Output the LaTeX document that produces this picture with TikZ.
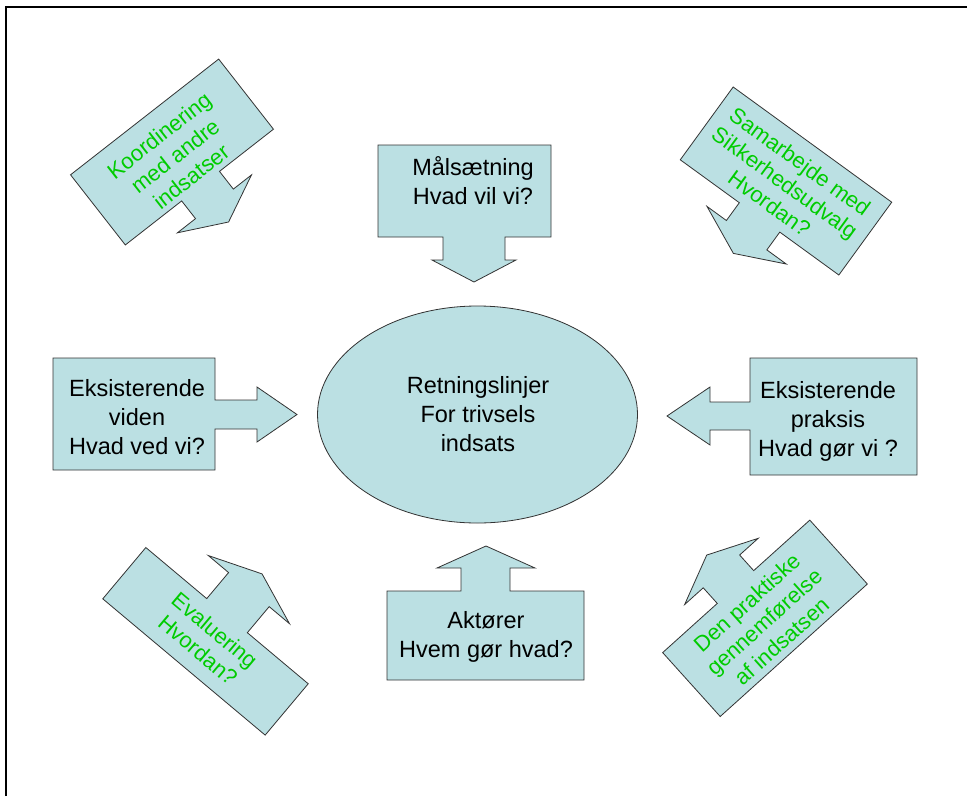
\documentclass[tikz,border=0pt]{standalone}
\usepackage{fontspec}
\setmainfont{Liberation Sans}
\usepackage{xcolor}
\usepackage{tikz}
\usetikzlibrary{shapes.geometric}

\definecolor{boxfill}{RGB}{187,224,227}
\definecolor{textgreen}{RGB}{0,204,0}

\begin{document}
\begin{tikzpicture}[x=1pt,y=-1pt,
		blockarrow/.style={fill=boxfill,draw=black!80,line width=0.8pt,line join=miter},
		blacktext/.style={align=center,inner sep=0pt,font=\fontsize{23.5}{29}\selectfont},
		greentext/.style={align=center,inner sep=0pt,text=textgreen,transform shape,font=\fontsize{22}{26}\selectfont}]
		\useasboundingbox (0,0) rectangle (967,796);
		% frame
		\draw[line width=2pt] (6,796)--(6,7)--(967,7);
		% centre
		\node[ellipse,fill=boxfill,draw=black!80,line width=0.8pt,minimum width=320pt,minimum height=217pt] (centre) at (477.5,414.5) {};
		\node[blacktext] (centretext) at (478,414) {Retningslinjer\\For trivsels\\indsats};
		% straight arrows
		\draw[blockarrow] (378,145)--(551,145)--(551,237)--(505,237)--(505,260)--(516,260)--(474,282)--(432,260)--(443,260)--(443,237)--(378,237)--cycle;
		\node[blacktext] (maal) at (473,181) {Målsætning\\Hvad vil vi?};
		\draw[blockarrow] (53,358)--(215,358)--(215,400)--(257,400)--(257,387)--(297,414.5)--(257,442)--(257,429)--(215,429)--(215,470)--(53,470)--cycle;
		\node[blacktext] (viden) at (137,417) {Eksisterende\\viden\\Hvad ved vi?};
		\draw[blockarrow] (917,358)--(750,358)--(750,402)--(710,402)--(710,387)--(667,416)--(710,445)--(710,430)--(750,430)--(750,475)--(917,475)--cycle;
		\node[blacktext] (praksis) at (828,421) {Eksisterende\\praksis\\Hvad gør vi ?};
		\draw[blockarrow] (387,680)--(584,680)--(584,591)--(510,591)--(510,568)--(535,568)--(486,546)--(437,568)--(461,568)--(461,591)--(387,591)--cycle;
		\node[blacktext] (aktoer) at (486,637) {Aktører\\Hvem gør hvad?};
		% tilted arrows
		\begin{scope}[shift={(172,152)},rotate=38,y=1pt]
			\draw[blockarrow] (-94,44.5)--(94,44.5)--(94,-44.5)--(25.5,-44.5)--(25.5,-67)--(48.5,-67)--(1.5,-90)--(-45.5,-67)--(-22.5,-67)--(-22.5,-44.5)--(-94,-44.5)--cycle;
			\node[greentext] (koord) at (0,-5) {Koordinering\\med andre\\indsatser};
		\end{scope}
		\begin{scope}[shift={(786,181)},rotate=-36,y=1pt]
			\draw[blockarrow] (-98,45)--(98,45)--(98,-45)--(25,-45)--(25,-67)--(49,-67)--(0,-89.5)--(-49,-67)--(-25,-67)--(-25,-45)--(-98,-45)--cycle;
			\node[greentext] (samarb) at (0,-2) {Samarbejde med\\Sikkerhedsudvalg\\Hvordan?};
		\end{scope}
		\begin{scope}[shift={(205.5,641.3)},rotate=-40,y=1pt]
			\draw[blockarrow] (-106,-33.5)--(106,-33.5)--(106,33.5)--(26.5,33.5)--(26.5,67.5)--(53,67.5)--(0,88)--(-53,67.5)--(-26.5,67.5)--(-26.5,33.5)--(-106,33.5)--cycle;
			\node[greentext] (evaluering) at (0,1.5) {Evaluering\\Hvordan?};
		\end{scope}
		\begin{scope}[shift={(765,618.3)},rotate=42,y=1pt]
			\draw[blockarrow] (-99,-43)--(99,-43)--(99,43)--(23.5,43)--(23.5,64)--(48.5,64)--(-1,86)--(-50.5,64)--(-25.5,64)--(-25.5,43)--(-99,43)--cycle;
			\node[greentext] (praktisk) at (-3,-2) {Den praktiske\\gennemførelse\\af indsatsen};
		\end{scope}
	\end{tikzpicture}
\end{document}
